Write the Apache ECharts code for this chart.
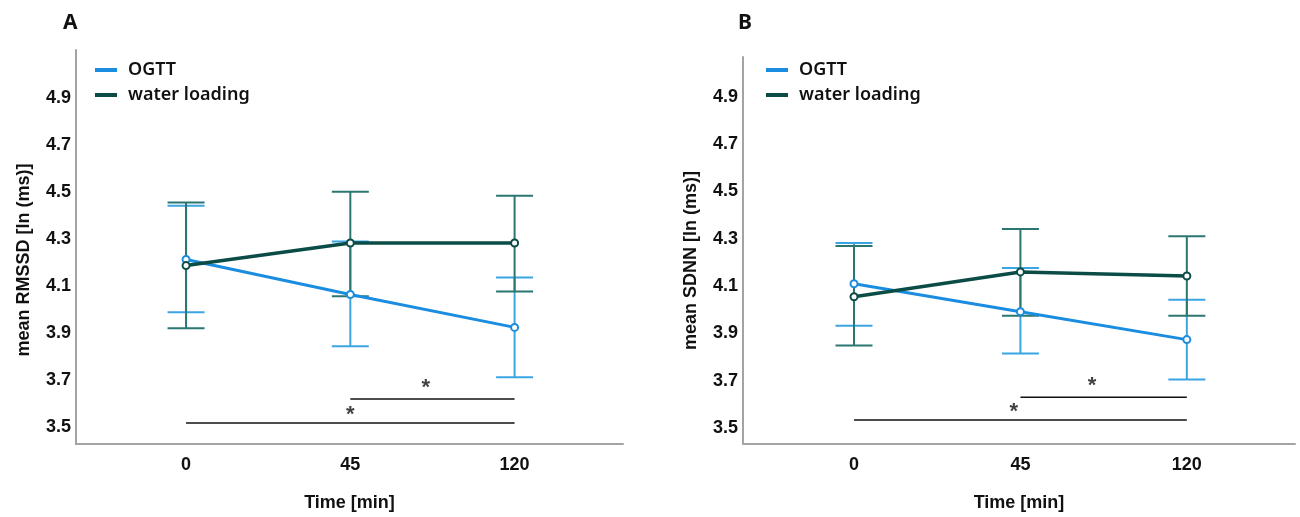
<!DOCTYPE html>
<html>
<head>
    <meta charset="utf-8">
    <title></title>
    <style type="text/css">
        html, body { margin: 0; padding: 0; background: #fff; }
        #main { width: 1300px; height: 517px; }
    </style>
</head>
<body>
<div id="main"></div>

<script type="text/javascript" src="https://cdn.jsdelivr.net/npm/echarts@6/dist/echarts.min.js"></script>
<script type="text/javascript">
    // time points (x categories, drawn on a value axis at 0, 1, 2)
    var timeLabels = ['0', '45', '120'];
    var yTicks = [3.5, 3.7, 3.9, 4.1, 4.3, 4.5, 4.7, 4.9];

    // panel A - RMSSD
    var rmssdOgtt      = [4.213, 4.064, 3.924];
    var rmssdOgttLow   = [3.988, 3.844, 3.712];
    var rmssdOgttHigh  = [4.442, 4.289, 4.136];
    var rmssdWater     = [4.187, 4.283, 4.283];
    var rmssdWaterLow  = [3.920, 4.056, 4.077];
    var rmssdWaterHigh = [4.455, 4.501, 4.484];

    // panel B - SDNN
    var sdnnOgtt      = [4.110, 3.992, 3.874];
    var sdnnOgttLow   = [3.933, 3.815, 3.706];
    var sdnnOgttHigh  = [4.282, 4.177, 4.042];
    var sdnnWater     = [4.055, 4.160, 4.143];
    var sdnnWaterLow  = [3.849, 3.975, 3.975];
    var sdnnWaterHigh = [4.269, 4.341, 4.311];

    // significance brackets (from index, to index, level) and their stars
    var bracketFrom = [0, 1];
    var bracketTo   = [2, 2];
    var rmssdBracketY = [3.517, 3.619];
    var rmssdStarX    = [1.0, 1.46];
    var rmssdStarY    = [3.572, 3.687];
    var sdnnBracketY  = [3.534, 3.630];
    var sdnnStarX     = [0.96, 1.43];
    var sdnnStarY     = [3.588, 3.698];

    var ogttColor = '#1b8de0';
    var waterColor = '#0b4d46';
    var ogttBarColor = '#3ba5e4';
    var waterBarColor = '#2a7670';
    var axisColor = '#a3a3a3';
    var labelFont = 'Liberation Sans, Arial, sans-serif';

    var myChart = echarts.init(document.getElementById('main'));

    function pts(vals) {
        return vals.map(function (v, i) { return [i, v]; });
    }
    function bars(low, high) {
        return low.map(function (v, i) { return [i, v, high[i]]; });
    }

    function errorBars(name, low, high, color, idx) {
        return {
            name: name + ' err',
            type: 'custom',
            xAxisIndex: idx,
            yAxisIndex: idx,
            silent: true,
            z: 1,
            renderItem: function (params, api) {
                var x = api.value(0);
                var lo = api.coord([x, api.value(1)]);
                var hi = api.coord([x, api.value(2)]);
                var hw = 18.5;
                var st = { stroke: color, lineWidth: 2 };
                return {
                    type: 'group',
                    children: [
                        { type: 'line', shape: { x1: lo[0], y1: lo[1], x2: hi[0], y2: hi[1] }, style: st },
                        { type: 'line', shape: { x1: hi[0] - hw, y1: hi[1], x2: hi[0] + hw, y2: hi[1] }, style: st },
                        { type: 'line', shape: { x1: lo[0] - hw, y1: lo[1], x2: lo[0] + hw, y2: lo[1] }, style: st }
                    ]
                };
            },
            data: bars(low, high)
        };
    }

    function meanLine(name, vals, color, width, idx) {
        return {
            name: name,
            type: 'line',
            xAxisIndex: idx,
            yAxisIndex: idx,
            z: 3,
            symbol: 'emptyCircle',
            symbolSize: 7,
            color: color,
            lineStyle: { color: color, width: width },
            itemStyle: { color: color, borderWidth: 1.5 },
            data: pts(vals)
        };
    }

    function brackets(levels, starX, starY, idx) {
        var out = [];
        levels.forEach(function (y, k) {
            out.push({
                type: 'line',
                xAxisIndex: idx,
                yAxisIndex: idx,
                silent: true,
                symbol: 'none',
                z: 2,
                lineStyle: { color: '#111', width: 1.5 },
                data: [[bracketFrom[k], y], [bracketTo[k], y]]
            });
        });
        out.push({
            type: 'scatter',
            xAxisIndex: idx,
            yAxisIndex: idx,
            silent: true,
            symbolSize: 2,
            itemStyle: { color: 'rgba(0,0,0,0)' },
            label: {
                show: true,
                position: 'inside',
                formatter: '*',
                offset: [0, 5],
                fontSize: 22,
                fontWeight: 'bold',
                color: '#111',
                fontFamily: labelFont
            },
            data: starX.map(function (x, k) { return [x, starY[k]]; })
        });
        return out;
    }

    function xAxis(idx, min, max) {
        return {
            type: 'value',
            gridIndex: idx,
            min: min,
            max: max,
            name: 'Time [min]',
            nameLocation: 'middle',
            nameGap: 50,
            nameTextStyle: { fontSize: 18, fontWeight: 'bold', color: '#111', fontFamily: labelFont },
            axisLine: { onZero: false, lineStyle: { color: axisColor, width: 2 } },
            axisTick: { show: false },
            splitLine: { show: false },
            axisLabel: {
                customValues: [0, 1, 2],
                formatter: function (v) { return timeLabels[Math.round(v)]; },
                margin: 12,
                fontSize: 18,
                fontWeight: 'bold',
                color: '#111',
                fontFamily: labelFont
            }
        };
    }

    function yAxis(idx, min, max, name, pad) {
        return {
            type: 'value',
            gridIndex: idx,
            min: min,
            max: max,
            name: name,
            nameLocation: 'middle',
            nameGap: 43,
            nameTextStyle: { fontSize: 18, fontWeight: 'bold', color: '#111', fontFamily: labelFont, padding: [0, pad, 0, 0] },
            axisLine: { show: true, onZero: false, lineStyle: { color: axisColor, width: 2 } },
            axisTick: { show: false },
            splitLine: { show: false },
            axisLabel: {
                customValues: yTicks,
                formatter: function (v) { return v.toFixed(1); },
                margin: 5,
                fontSize: 18,
                fontWeight: 'bold',
                color: '#111',
                fontFamily: labelFont
            }
        };
    }

    function legend(left) {
        return {
            left: left,
            top: 60,
            padding: 0,
            orient: 'vertical',
            icon: 'rect',
            itemWidth: 22,
            itemHeight: 4,
            itemGap: 5,
            selectedMode: false,
            data: ['OGTT', 'water loading'],
            textStyle: {
                fontSize: 18,
                lineHeight: 20,
                fontWeight: 600,
                color: '#111',
                fontFamily: 'Noto Sans, sans-serif',
                padding: [0, 0, 0, 6]
            }
        };
    }

    var series = [
        errorBars('OGTT', rmssdOgttLow, rmssdOgttHigh, ogttBarColor, 0),
        errorBars('water loading', rmssdWaterLow, rmssdWaterHigh, waterBarColor, 0),
        meanLine('OGTT', rmssdOgtt, ogttColor, 3, 0),
        meanLine('water loading', rmssdWater, waterColor, 3.5, 0),
        errorBars('OGTT', sdnnOgttLow, sdnnOgttHigh, ogttBarColor, 1),
        errorBars('water loading', sdnnWaterLow, sdnnWaterHigh, waterBarColor, 1),
        meanLine('OGTT', sdnnOgtt, ogttColor, 3, 1),
        meanLine('water loading', sdnnWater, waterColor, 3.5, 1)
    ].concat(brackets(rmssdBracketY, rmssdStarX, rmssdStarY, 0))
     .concat(brackets(sdnnBracketY, sdnnStarX, sdnnStarY, 1));

    myChart.setOption({
        animation: false,
        title: [
            { text: 'A', left: 58, top: 8, textStyle: { fontSize: 21, fontWeight: 'bold', color: '#111', fontFamily: 'Noto Sans, sans-serif' } },
            { text: 'B', left: 733, top: 8, textStyle: { fontSize: 21, fontWeight: 'bold', color: '#111', fontFamily: 'Noto Sans, sans-serif' } }
        ],
        legend: [legend(95), legend(766)],
        grid: [
            { left: 76, top: 50, width: 547, height: 395 },
            { left: 743, top: 57, width: 552, height: 389 }
        ],
        xAxis: [xAxis(0, -0.67, 2.66), xAxis(1, -0.667, 2.65)],
        yAxis: [
            yAxis(0, 3.428, 5.104, 'mean RMSSD [ln (ms)]', 26),
            yAxis(1, 3.433, 5.068, 'mean SDNN [ln (ms)]', 20)
        ],
        series: series
    });
</script>

</body>
</html>
